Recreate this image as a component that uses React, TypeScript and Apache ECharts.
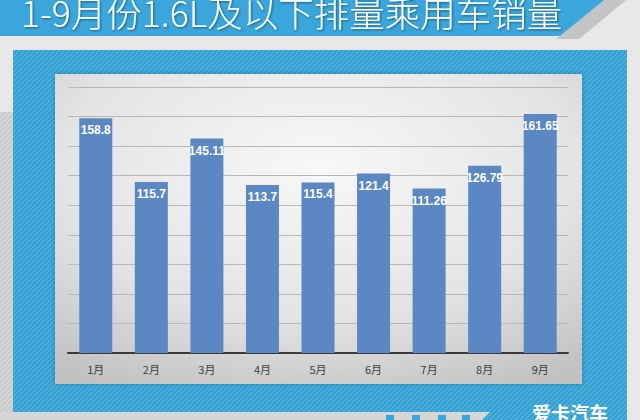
import React, { useEffect, useRef } from "react";
import * as echarts from "echarts";

const categories = ["1月", "2月", "3月", "4月", "5月", "6月", "7月", "8月", "9月"];
const sales = [158.8, 115.7, 145.11, 113.7, 115.4, 121.4, 111.26, 126.79, 161.65];
const titleText = "1-9月份1.6L及以下排量乘用车销量";
const logoText = "爱卡汽车";

function stripePattern(base: string, stripe: string, size: number): string {
  try {
    const c = document.createElement("canvas");
    c.width = size;
    c.height = size;
    const ctx = c.getContext("2d");
    if (!ctx) return "";
    ctx.fillStyle = base;
    ctx.fillRect(0, 0, size, size);
    ctx.strokeStyle = stripe;
    ctx.lineWidth = 1.2;
    const segs = [
      [-size, size, size, -size],
      [0, size, size, 0],
      [0, 2 * size, 2 * size, 0],
    ];
    for (const s of segs) {
      ctx.beginPath();
      ctx.moveTo(s[0], s[1]);
      ctx.lineTo(s[2], s[3]);
      ctx.stroke();
    }
    return c.toDataURL();
  } catch (e) {
    return "";
  }
}

export default function App() {
  const ref = useRef<HTMLDivElement>(null);
  useEffect(() => {
    if (!ref.current) return;
    const chart = echarts.init(ref.current, undefined, { renderer: "svg" });
    const blueUrl = stripePattern("#31a0d3", "rgba(255,255,255,0.22)", 5);
    const grayUrl = stripePattern("#c9c9c9", "rgba(255,255,255,0.35)", 5);
    const blueFill: any = blueUrl ? { image: blueUrl, repeat: "repeat" } : "#33a1d4";
    const grayFill: any = grayUrl ? { image: grayUrl, repeat: "repeat" } : "#c9c9c9";

    chart.setOption({
      animation: false,
      backgroundColor: "#e8e8e8",
      graphic: [
        // left hatched strip
        { type: "rect", z: -10, shape: { x: 0, y: 112, width: 13, height: 300 }, style: { fill: grayFill } },
        // title shadow parallelogram
        {
          type: "polygon",
          z: -10,
          shape: { points: [[603, 0], [626, 0], [579, 39], [556, 39]] },
          style: { fill: "#c4c4c4" },
        },
        // title band
        {
          type: "polygon",
          z: -9,
          shape: { points: [[0, 0], [604, 0], [560, 36], [0, 36]] },
          style: { fill: "#3aa6db" },
        },
        {
          type: "text",
          z: -8,
          x: 21,
          y: 11,
          style: {
            text: titleText,
            fill: "#ffffff",
            font: '300 35.5px "Noto Sans CJK SC"',
            textVerticalAlign: "middle",
            textShadowColor: "rgba(0,0,0,0.45)",
            textShadowBlur: 2,
            textShadowOffsetX: 1,
            textShadowOffsetY: 1,
          },
        },
        // blue panel
        { type: "rect", z: -10, shape: { x: 13, y: 50, width: 614, height: 370 }, style: { fill: blueFill } },
        // bottom gray footer
        {
          type: "polygon",
          z: -9,
          shape: { points: [[0, 412], [490, 412], [482, 420], [0, 420]] },
          style: { fill: "#d6d6d6" },
        },
        { type: "rect", z: -8, shape: { x: 386, y: 415, width: 8, height: 5 }, style: { fill: "#3aa6db" } },
        { type: "rect", z: -8, shape: { x: 412, y: 415, width: 8, height: 5 }, style: { fill: "#3aa6db" } },
        { type: "rect", z: -8, shape: { x: 438, y: 415, width: 8, height: 5 }, style: { fill: "#3aa6db" } },
        { type: "rect", z: -8, shape: { x: 462, y: 415, width: 8, height: 5 }, style: { fill: "#3aa6db" } },
        {
          type: "text",
          z: -8,
          x: 532,
          y: 403,
          style: {
            text: logoText,
            fill: "#ffffff",
            font: 'bold 19px "Noto Sans CJK SC"',
            textVerticalAlign: "top",
          },
        },
        // inner plot panel
        {
          type: "rect",
          z: -9,
          shape: { x: 55, y: 74, width: 527, height: 310 },
          style: {
            fill: {
              type: "radial",
              x: 0.5,
              y: 0.3,
              r: 0.8,
              colorStops: [
                { offset: 0, color: "#f8f8f8" },
                { offset: 0.6, color: "#e4e4e4" },
                { offset: 1, color: "#c2c2c2" },
              ],
            },
            shadowColor: "rgba(0,0,0,0.25)",
            shadowBlur: 4,
          },
        },
      ],
      grid: { left: 68, right: 72, top: 87, bottom: 67 },
      xAxis: {
        type: "category",
        data: categories,
        axisLine: { lineStyle: { color: "#3a3a3a", width: 2 } },
        axisTick: { show: false },
        axisLabel: { color: "#404040", fontSize: 11, margin: 10, fontFamily: '"Noto Sans CJK SC"' },
      },
      yAxis: {
        type: "value",
        min: 0,
        max: 180,
        interval: 20,
        axisLabel: { show: false },
        axisLine: { show: false },
        axisTick: { show: false },
        splitLine: { lineStyle: { color: "#b8b8b8", width: 1 } },
      },
      series: [
        {
          type: "bar",
          data: sales,
          barWidth: 33,
          itemStyle: { color: "#5b88c2" },
          label: {
            show: true,
            position: "insideTop",
            distance: 6,
            color: "#ffffff",
            fontSize: 12,
            fontWeight: "bold",
            fontFamily: '"Liberation Sans", Arial, sans-serif',
          },
        },
      ],
    });
    return () => chart.dispose();
  }, []);
  return <div ref={ref} style={{ width: 640, height: 420, position: "absolute", left: 0, top: 0 }} />;
}
